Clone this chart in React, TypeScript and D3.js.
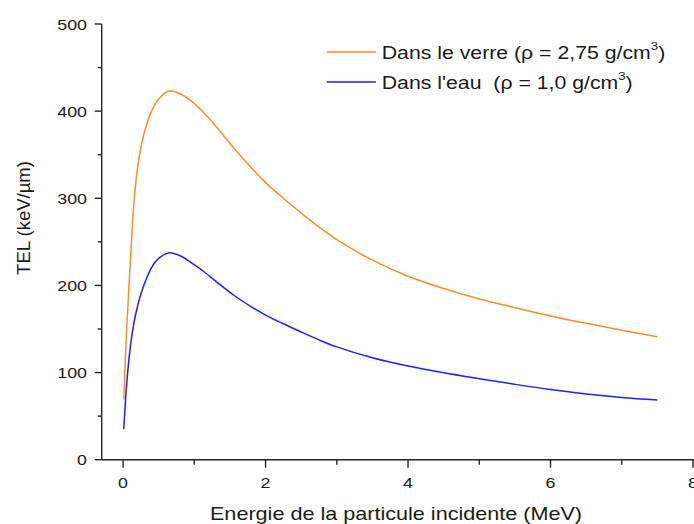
import * as d3 from "d3";

// énergie (MeV) et TEL (keV/µm)
const energy = [
  0.01, 0.05, 0.1, 0.15, 0.2, 0.25, 0.3, 0.4, 0.5, 0.65, 0.8, 0.95, 1.1, 1.3,
  1.55, 1.8, 2.0, 2.25, 2.5, 2.75, 3.0, 3.5, 4.0, 4.5, 5.0, 5.5, 6.0, 6.5, 7.0,
  7.5,
];
const telVerre = [
  69, 150, 224, 292, 333, 358, 376, 400, 414, 423, 420, 412, 401, 383, 358,
  335, 318, 300, 283, 267, 252.5, 229, 210.5, 196.5, 184.5, 174.5, 165, 156.5,
  148.5, 141,
];
const telEau = [
  35, 86, 128, 156, 175, 190, 202, 220.5, 231, 237.5, 234, 226.5, 218, 205,
  189, 175.5, 166, 156, 146.5, 137.5, 129.5, 117, 107.5, 99.8, 93, 86.5, 80.5,
  75.5, 71.5, 68.5,
];
const xMajor = [0, 2, 4, 6, 8];
const xMinor = [1, 3, 5, 7];
const yMajor = [0, 100, 200, 300, 400, 500];
const yMinor = [50, 150, 250, 350, 450];

const series = [
  { name: "Dans le verre (ρ = 2,75 g/cm", values: telVerre, color: "#ff8c26" },
  { name: "Dans l'eau  (ρ = 1,0 g/cm", values: telEau, color: "#1f1fff" },
];

const W = 694;
const H = 524;
const FONT = "'Liberation Sans', Arial, sans-serif";
const AXIS = "#262626";

const Stretch = ({ x, y, sx, size, anchor, children }: any) => (
  <g transform={`translate(${x},${y}) scale(${sx},1)`}>
    <text
      textAnchor={anchor}
      fontSize={size}
      fill="#1a1a1a"
      style={{ whiteSpace: "pre" }}
    >
      {children}
    </text>
  </g>
);

const App = () => {
  const x = d3.scaleLinear().domain([-0.3, 8]).range([101.7, 693]);
  const y = d3.scaleLinear().domain([0, 500]).range([459.7, 24]);
  const line = d3
    .line<number>()
    .x((_, i) => x(energy[i]))
    .y((d) => y(d))
    .curve(d3.curveCatmullRom.alpha(0.5));

  const x0 = x.range()[0];
  const y0 = y.range()[0];

  return (
    <svg
      width={W}
      height={H}
      style={{ position: "absolute", left: 0, top: 0, background: "#fff" }}
      fontFamily={FONT}
    >
      {series.map((s) => (
        <path
          key={s.name}
          d={line(s.values) ?? ""}
          fill="none"
          stroke={s.color}
          strokeWidth={1.5}
        />
      ))}

      {/* axe Y */}
      <g stroke={AXIS} strokeWidth={1.4}>
        <line x1={x0} x2={x0} y1={y(500)} y2={y0} />
        {yMajor.map((v) => (
          <line key={v} x1={x0 - 7} x2={x0} y1={y(v)} y2={y(v)} />
        ))}
        {yMinor.map((v) => (
          <line key={v} x1={x0 - 4} x2={x0} y1={y(v)} y2={y(v)} />
        ))}
      </g>
      {yMajor.map((v) => (
        <Stretch key={v} x={87} y={y(v) + 5.5} sx={1.15} size={15.5} anchor="end">
          {v}
        </Stretch>
      ))}

      {/* axe X */}
      <g stroke={AXIS} strokeWidth={1.4}>
        <line x1={x0} x2={W} y1={y0} y2={y0} />
        {xMajor.map((v) => (
          <line key={v} x1={x(v)} x2={x(v)} y1={y0} y2={y0 + 8} />
        ))}
        {xMinor.map((v) => (
          <line key={v} x1={x(v)} x2={x(v)} y1={y0} y2={y0 + 5} />
        ))}
      </g>
      {xMajor.map((v) => (
        <Stretch key={v} x={x(v)} y={488} sx={1.15} size={15.5} anchor="middle">
          {v}
        </Stretch>
      ))}

      <Stretch x={396} y={520} sx={1.2} size={18} anchor="middle">
        Energie de la particule incidente (MeV)
      </Stretch>
      <text
        transform="translate(30,218) rotate(-90)"
        textAnchor="middle"
        fontSize={18.5}
        fill="#1a1a1a"
      >
        TEL (keV/µm)
      </text>

      {/* légende */}
      {series.map((s, i) => {
        const ly = 52 + i * 30;
        return (
          <g key={s.name}>
            <line x1={326.7} x2={376} y1={ly} y2={ly} stroke={s.color} strokeWidth={1.5} />
            <Stretch x={381.7} y={ly + 7} sx={1.15} size={18.5} anchor="start">
              {s.name}
              <tspan fontSize={11.5} dy={-9}>
                3
              </tspan>
              <tspan dy={9}>)</tspan>
            </Stretch>
          </g>
        );
      })}
    </svg>
  );
};

export default App;
